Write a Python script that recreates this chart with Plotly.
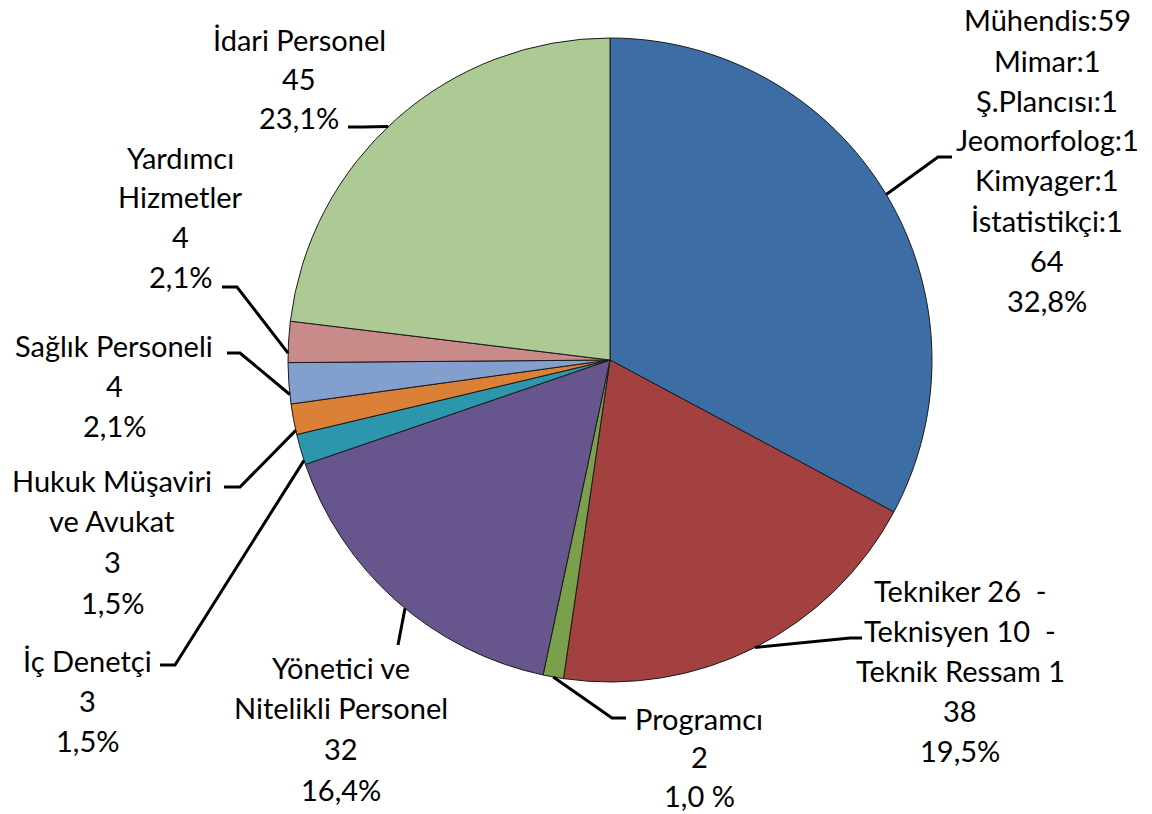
import math
import plotly.graph_objects as go

# ---------------- data ----------------
categories = ["Mühendis", "Tekniker/Teknisyen/Teknik Ressam", "Programcı",
              "Yönetici ve Nitelikli Personel", "İç Denetçi",
              "Hukuk Müşaviri ve Avukat", "Sağlık Personeli",
              "Yardımcı Hizmetler", "İdari Personel"]
values = [64, 38, 2, 32, 3, 3, 4, 4, 45]
name_lines = [
    ["Mühendis:59", "Mimar:1", "Ş.Plancısı:1", "Jeomorfolog:1", "Kimyager:1", "İstatistikçi:1"],
    ["Tekniker 26  -", "Teknisyen 10  -", "Teknik Ressam 1"],
    ["Programcı"],
    ["Yönetici ve", "Nitelikli Personel"],
    ["İç Denetçi"],
    ["Hukuk Müşaviri", "ve Avukat"],
    ["Sağlık Personeli"],
    ["Yardımcı", "Hizmetler"],
    ["İdari Personel"],
]
pct_texts = ["32,8%", "19,5%", "1,0 %", "16,4%", "1,5%", "1,5%", "2,1%", "2,1%", "23,1%"]

# ---------------- styles / layout ----------------
colors = ["#3C6DA4", "#A2413F", "#7BA04C", "#67568D", "#2C96AD",
          "#DA8137", "#829FCD", "#C98B8A", "#ADC994"]
W, H = 1152, 814
CX, CY, R = 610, 360, 322
FONT = dict(family="Lato, Carlito, Calibri, sans-serif", size=29, color="black")

# label block: (center x, first line center y, line step), leader: elbow, end, angle adj
label_layout = [
    dict(x=1047, y0=20, step=40, elbow=(938, 157), end=(952, 157), adj=0),
    dict(x=960, y0=590, step=40, elbow=(850, 638), end=(862, 638), adj=0),
    dict(x=699, y0=718, step=38.5, elbow=(612, 718), end=(626, 718), adj=0),
    dict(x=341, y0=667, step=40.7, elbow=(398, 645), end=(398, 645), adj=-2),
    dict(x=87, y0=660, step=40, elbow=(175, 665), end=(160, 665), adj=-2),
    dict(x=112, y0=480, step=40.7, elbow=(240, 487), end=(224, 487), adj=-2),
    dict(x=114, y0=345, step=40, elbow=(240, 353), end=(227, 353), adj=-2),
    dict(x=180, y0=157, step=39.7, elbow=(237, 287), end=(222, 287), adj=-2),
    dict(x=299, y0=40, step=38.5, elbow=(363, 127), end=(348, 127), adj=-2),
]


def px(x):
    return x / W


def py(y):
    return 1 - y / H


fig = go.Figure(go.Pie(
    labels=categories,
    values=values,
    sort=False,
    direction="clockwise",
    rotation=0,
    marker=dict(colors=colors, line=dict(color="#1a1a1a", width=1)),
    textinfo="none",
    hoverinfo="label+value+percent",
    showlegend=False,
    domain=dict(x=[px(CX - R), px(CX + R)], y=[py(CY + R), py(CY - R)]),
))

annotations = []
shapes = []
total = sum(values)
cum = 0
for i, v in enumerate(values):
    mid = (cum + v / 2) / total * 360
    cum += v
    lay = label_layout[i]
    lines = name_lines[i] + [str(v), pct_texts[i]]
    for k, t in enumerate(lines):
        annotations.append(dict(
            x=px(lay["x"]), y=py(lay["y0"] + k * lay["step"]),
            xref="paper", yref="paper", text=t, showarrow=False,
            xanchor="center", yanchor="middle", font=FONT, borderpad=0))
    th = math.radians(mid + lay["adj"])
    sx = CX + R * math.sin(th)
    sy = CY - R * math.cos(th)
    ex, ey = lay["elbow"]
    fx, fy = lay["end"]
    path = f"M {px(sx)},{py(sy)} L {px(ex)},{py(ey)} L {px(fx)},{py(fy)}"
    shapes.append(dict(type="path", xref="paper", yref="paper", path=path,
                       line=dict(color="black", width=3)))

fig.update_layout(
    width=W, height=H,
    margin=dict(l=0, r=0, t=0, b=0),
    paper_bgcolor="white", plot_bgcolor="white",
    annotations=annotations, shapes=shapes,
)

fig.write_html("out.html", config={"displayModeBar": False},
               post_script="document.body.style.margin='0';document.body.style.padding='0';")
